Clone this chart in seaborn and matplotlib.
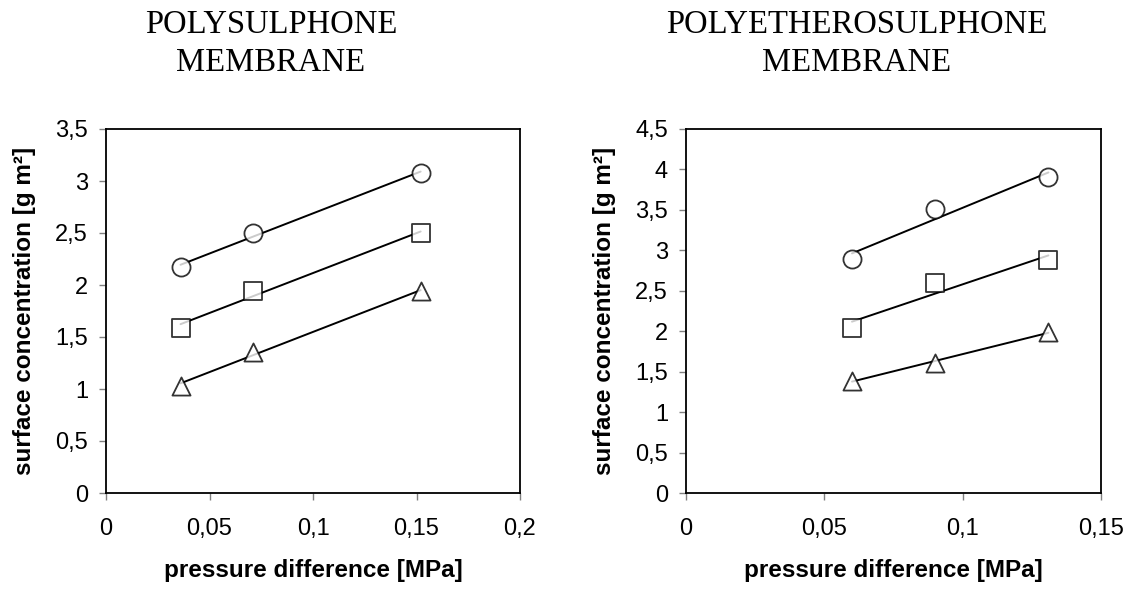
"""Surface concentration vs pressure difference for two membranes."""

import matplotlib

matplotlib.use("Agg")
import matplotlib.pyplot as plt
from matplotlib.ticker import FuncFormatter, MultipleLocator
import pandas as pd
import seaborn as sns

sns.set_style("ticks")
plt.rcParams["font.family"] = ["Liberation Sans", "DejaVu Sans"]
plt.rcParams["text.color"] = "black"
plt.rcParams["axes.labelcolor"] = "black"

# --- data ---
ps_dp = [0.036, 0.071, 0.152]
ps_circle = [2.17, 2.50, 3.08]
ps_square = [1.59, 1.94, 2.50]
ps_triangle = [1.03, 1.36, 1.94]

pes_dp = [0.060, 0.090, 0.131]
pes_circle = [2.89, 3.51, 3.91]
pes_square = [2.04, 2.60, 2.88]
pes_triangle = [1.39, 1.61, 1.99]

titles = [("POLYSULPHONE", "MEMBRANE"), ("POLYETHEROSULPHONE", "MEMBRANE")]
MARKERS = {"circle": "o", "square": "s", "triangle": "^"}

ps = pd.DataFrame({"dp": ps_dp * 3,
                   "conc": ps_circle + ps_square + ps_triangle,
                   "series": ["circle"] * 3 + ["square"] * 3 + ["triangle"] * 3})
pes = pd.DataFrame({"dp": pes_dp * 3,
                    "conc": pes_circle + pes_square + pes_triangle,
                    "series": ["circle"] * 3 + ["square"] * 3 + ["triangle"] * 3})

comma = FuncFormatter(lambda v, _: f"{v:g}".replace(".", ","))

fig = plt.figure(figsize=(11.31, 5.91), dpi=100)
ax1 = fig.add_axes([106 / 1131, 98 / 591, 414 / 1131, 364 / 591])
ax2 = fig.add_axes([686 / 1131, 98 / 591, 415 / 1131, 364 / 591])

setups = [(ax1, ps, 0.2, 0.05, 3.5), (ax2, pes, 0.15, 0.05, 4.5)]
for ax, df, xmax, xstep, ymax in setups:
    for name, grp in df.groupby("series"):
        sns.regplot(data=grp, x="dp", y="conc", ax=ax, ci=None, marker=MARKERS[name],
                    scatter_kws={"s": 170, "facecolors": "white", "edgecolors": "black",
                                 "linewidths": 1.3, "zorder": 3},
                    line_kws={"color": "black", "lw": 1.4, "zorder": 2})
    ax.set_xlim(0, xmax)
    ax.set_ylim(0, ymax)
    ax.xaxis.set_major_locator(MultipleLocator(xstep))
    ax.yaxis.set_major_locator(MultipleLocator(0.5))
    ax.xaxis.set_major_formatter(comma)
    ax.yaxis.set_major_formatter(comma)
    for sp in ax.spines.values():
        sp.set_visible(True)
        sp.set_color("black")
        sp.set_linewidth(1.3)
    ax.tick_params(axis="both", direction="out", length=5, width=1, color="#808080",
                   labelsize=17, labelcolor="black")
    ax.tick_params(axis="x", pad=13)
    ax.tick_params(axis="y", pad=8)
    ax.set_xlabel("pressure difference [MPa]", fontsize=17.5, fontweight="bold", labelpad=14)
    ax.set_ylabel("surface concentration [g m²]", fontsize=17.5, fontweight="bold", labelpad=14)
    ax.grid(False)

for xc, (l1, l2) in zip([271 / 1131, 857 / 1131], titles):
    fig.text(xc, 1 - 33 / 591, l1, ha="center", va="baseline", fontsize=23.5,
             family="Liberation Serif")
    fig.text(xc, 1 - 71 / 591, l2, ha="center", va="baseline", fontsize=23.5,
             family="Liberation Serif")

fig.savefig("out.png", dpi=100)
plt.close(fig)
